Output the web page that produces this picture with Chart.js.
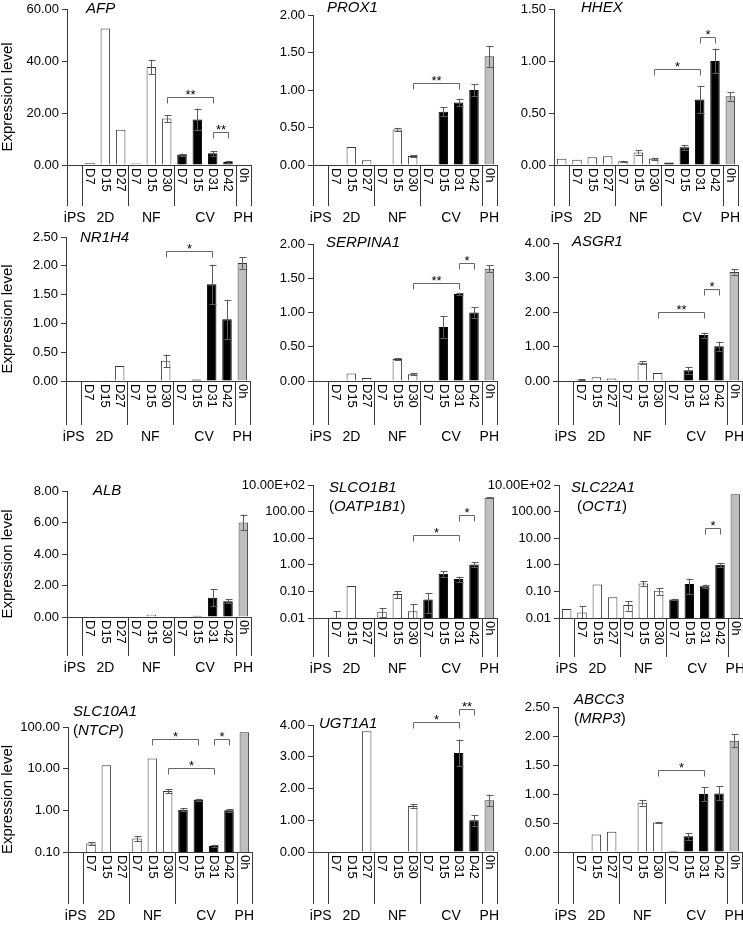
<!DOCTYPE html>
<html>
<head>
<meta charset="utf-8">
<script src="https://cdn.jsdelivr.net/npm/chart.js@4/dist/chart.umd.min.js"></script>
<style>
  html, body { margin: 0; background: #fff; }
  body { position: relative; width: 743px; height: 930px; overflow: hidden; }
  canvas { position: absolute; }
</style>
</head>
<body>
<script>
// categories
const days = ['iPS', 'D7', 'D15', 'D27', 'D7', 'D15', 'D30', 'D7', 'D15', 'D31', 'D42', '0h'];
const groupNames = ['iPS', '2D', 'NF', 'CV', 'PH'];
const groupSizes = [1, 3, 3, 4, 1];

// log axis ticks
const logTicksA = [0.01, 0.1, 1, 10, 100, 1000];
const logLabelsA = ['0.01', '0.10', '1.00', '10.00', '100.00', '10.00E+02'];
const logTicksB = [0.1, 1, 10, 100];
const logLabelsB = ['0.10', '1.00', '10.00', '100.00'];

// values, errors, significance brackets [from, to, y, label]
const afpValues = [0, 0.8, 52.5, 13.6, 0.6, 37.7, 17.9, 4.0, 17.5, 4.5, 1.2, 0];
const afpErrors = [0, 0, 0, 0, 0, 2.8, 1.3, 0.4, 4.2, 0.9, 0.4, 0];
const afpStars = [[6, 9, 26.3, '**'], [9, 10, 12.7, '**']];

const prox1Values = [0.01, 0, 0.24, 0.065, 0, 0.475, 0.12, 0.005, 0.71, 0.835, 1.0, 1.45];
const prox1Errors = [0, 0, 0, 0, 0, 0.02, 0.015, 0, 0.06, 0.05, 0.08, 0.14];
const prox1Stars = [[6, 9, 1.1, '**']];

const hhexValues = [0.06, 0.05, 0.075, 0.085, 0.035, 0.12, 0.06, 0.025, 0.17, 0.63, 1.0, 0.66];
const hhexErrors = [0, 0, 0, 0, 0.005, 0.02, 0.01, 0, 0.025, 0.13, 0.12, 0.04];
const hhexStars = [[6, 9, 0.92, '*'], [9, 10, 1.23, '*']];

const nr1h4Values = [0, 0, 0.005, 0.26, 0, 0.015, 0.35, 0, 0.025, 1.68, 1.07, 2.05];
const nr1h4Errors = [0, 0, 0, 0, 0, 0, 0.11, 0, 0, 0.34, 0.34, 0.1];
const nr1h4Stars = [[6, 9, 2.26, '*']];

const serpina1Values = [0, 0, 0.11, 0.045, 0, 0.32, 0.1, 0.005, 0.79, 1.27, 1.0, 1.64];
const serpina1Errors = [0, 0, 0, 0, 0, 0.01, 0.01, 0, 0.16, 0.02, 0.08, 0.05];
const serpina1Stars = [[6, 9, 1.43, '**'], [9, 10, 1.72, '*']];

const asgr1Values = [0, 0.04, 0.11, 0.07, 0.015, 0.53, 0.23, 0.01, 0.31, 1.33, 1.01, 3.16];
const asgr1Errors = [0, 0.01, 0, 0, 0, 0.04, 0, 0, 0.1, 0.07, 0.13, 0.08];
const asgr1Stars = [[6, 9, 2.01, '**'], [9, 10, 2.66, '*']];

const albValues = [0, 0, 0.04, 0.02, 0, 0.15, 0.05, 0, 0.08, 1.22, 1.0, 6.0];
const albErrors = [0, 0, 0, 0, 0, 0, 0, 0, 0, 0.55, 0.12, 0.5];
const albStars = [];

const slco1b1Values = [null, 0.0105, 0.16, null, 0.017, 0.08, 0.018, 0.05, 0.46, 0.29, 1.03, 330];
const slco1b1Errors = [0, 0.008, 0, 0, 0.006, 0.025, 0.015, 0.035, 0.12, 0.07, 0.2, 15];
const slco1b1Stars = [[6, 9, 13.6, '*'], [9, 10, 72, '*']];

const slc22a1Values = [0.022, 0.016, 0.18, 0.06, 0.031, 0.2, 0.105, 0.05, 0.19, 0.155, 1.0, 450];
const slc22a1Errors = [0, 0.012, 0, 0, 0.012, 0.04, 0.03, 0.004, 0.11, 0.025, 0.17, 0];
const slc22a1Stars = [[9, 10, 23.7, '*']];

const slc10a1Values = [null, 0.16, 12, null, 0.21, 17.5, 2.9, 1.03, 1.8, 0.14, 1.0, 75];
const slc10a1Errors = [0, 0.01, 0, 0, 0.03, 0, 0.35, 0.08, 0.12, 0.01, 0.08, 0];
const slc10a1Stars = [[5, 8, 52, '*'], [6, 9, 10.2, '*'], [9, 10, 52, '*']];

const ugt1a1Values = [0, 0, 0, 3.8, 0, 0, 1.45, 0, 0, 3.12, 1.0, 1.63];
const ugt1a1Errors = [0, 0, 0, 0, 0, 0, 0.05, 0, 0, 0.42, 0.17, 0.18];
const ugt1a1Stars = [[6, 9, 4.1, '*'], [9, 10, 4.5, '**']];

const abcc3Values = [0, 0.005, 0.3, 0.35, 0.005, 0.85, 0.51, 0.02, 0.27, 1.0, 1.01, 1.92];
const abcc3Errors = [0, 0, 0, 0, 0, 0.05, 0.01, 0, 0.06, 0.12, 0.12, 0.11];
const abcc3Stars = [[6, 9, 1.41, '*']];

const FONT = '"Liberation Sans", Arial, sans-serif';
const AXIS = '#3a3a3a';
const ERR = '#5c5c5c';
const groupFill = ['#ffffff', '#ffffff', '#ffffff', '#000000', '#bfbfbf'];

// page layout of each panel: axis x, top tick y, zero line y
const panels = [
  { title: [[['AFP', 1]]], values: afpValues, errors: afpErrors, stars: afpStars, max: 60, step: 20,
    axisX: 67, topY: 9, zeroY: 165, tx: 86, ty: 9, ylab: true, gdy: 53 },
  { title: [[['PROX1', 1]]], values: prox1Values, errors: prox1Errors, stars: prox1Stars, max: 2, step: 0.5,
    axisX: 313, topY: 15, zeroY: 165, tx: 327, ty: 8, gdy: 53 },
  { title: [[['HHEX', 1]]], values: hhexValues, errors: hhexErrors, stars: hhexStars, max: 1.5, step: 0.5,
    axisX: 554, topY: 9, zeroY: 165, tx: 581, ty: 8, gdy: 53 },
  { title: [[['NR1H4', 1]]], values: nr1h4Values, errors: nr1h4Errors, stars: nr1h4Stars, max: 2.5, step: 0.5,
    axisX: 66, topY: 237, zeroY: 381, tx: 80, ty: 238, ylab: true, gdy: 56 },
  { title: [[['SERPINA1', 1]]], values: serpina1Values, errors: serpina1Errors, stars: serpina1Stars, max: 2, step: 0.5,
    axisX: 313, topY: 244, zeroY: 381, tx: 326, ty: 243, gdy: 56 },
  { title: [[['ASGR1', 1]]], values: asgr1Values, errors: asgr1Errors, stars: asgr1Stars, max: 4, step: 1,
    axisX: 558, topY: 243, zeroY: 381, tx: 572, ty: 242, gdy: 56 },
  { title: [[['ALB', 1]]], values: albValues, errors: albErrors, stars: albStars, max: 8, step: 2,
    axisX: 67, topY: 491, zeroY: 617, tx: 93, ty: 491, ylab: true, gdy: 51 },
  { title: [[['SLCO1B1', 1]], [['(', 0], ['OATP1B1', 1], [')', 0]]], values: slco1b1Values, errors: slco1b1Errors,
    stars: slco1b1Stars, logTicks: logTicksA, logLabels: logLabelsA,
    axisX: 313, topY: 485, zeroY: 618, tx: 329, ty: 488, gdy: 51 },
  { title: [[['SLC22A1', 1]], [['(', 0], ['OCT1', 1], [')', 0]]], values: slc22a1Values, errors: slc22a1Errors,
    stars: slc22a1Stars, logTicks: logTicksA, logLabels: logLabelsA,
    axisX: 559, topY: 485, zeroY: 618, tx: 571, ty: 488, tx2: 577, gdy: 51 },
  { title: [[['SLC10A1', 1]], [['(', 0], ['NTCP', 1], [')', 0]]], values: slc10a1Values, errors: slc10a1Errors,
    stars: slc10a1Stars, logTicks: logTicksB, logLabels: logLabelsB,
    axisX: 68, topY: 727, zeroY: 852, tx: 73, ty: 712, ylab: true, gdy: 64 },
  { title: [[['UGT1A1', 1]]], values: ugt1a1Values, errors: ugt1a1Errors, stars: ugt1a1Stars, max: 4, step: 1,
    axisX: 313, topY: 725, zeroY: 852, tx: 319, ty: 724, gdy: 64 },
  { title: [[['ABCC3', 1]], [['(', 0], ['MRP3', 1], [')', 0]]], values: abcc3Values, errors: abcc3Errors,
    stars: abcc3Stars, max: 2.5, step: 0.5,
    axisX: 558, topY: 707, zeroY: 852, tx: 574, ty: 700, gdy: 64 }
];

const PADT = 40, PADB = 80, LEFTW = 80, PLOTW = 184, PADR = 8;

// group index of every bar
const groupOf = [];
groupSizes.forEach((n, g) => { for (let k = 0; k < n; k++) groupOf.push(g); });

function decor(p) {
  return {
    id: 'decor',
    afterDraw(chart) {
      const ctx = chart.ctx, xs = chart.scales.x, ys = chart.scales.y;
      const base = chart.chartArea.bottom;
      const cw = (xs.right - xs.left) / days.length;
      ctx.save();

      // axis extension and group separators
      ctx.strokeStyle = AXIS;
      ctx.lineWidth = 1;
      ctx.beginPath();
      let acc = 0;
      [0].concat(groupSizes).forEach(n => {
        acc += n;
        const x = Math.round(xs.left + acc * cw) + 0.5;
        ctx.moveTo(x, base);
        ctx.lineTo(x, base + p.gdy - 12);
      });
      ctx.stroke();

      // rotated day labels
      ctx.fillStyle = '#000';
      ctx.font = '13px ' + FONT;
      ctx.textAlign = 'left';
      ctx.textBaseline = 'middle';
      days.forEach((d, i) => {
        if (i === 0) return;
        ctx.save();
        ctx.translate(xs.getPixelForValue(i), base + 3);
        ctx.rotate(Math.PI / 2);
        ctx.fillText(d, 0, 0);
        ctx.restore();
      });

      // group names
      ctx.font = '14px ' + FONT;
      ctx.textAlign = 'center';
      acc = 0;
      groupSizes.forEach((n, g) => {
        ctx.fillText(groupNames[g], xs.left + (acc + n / 2) * cw, base + p.gdy);
        acc += n;
      });

      // error bars
      const meta = chart.getDatasetMeta(0);
      ctx.strokeStyle = ERR;
      ctx.beginPath();
      p.values.forEach((v, i) => {
        const e = p.errors[i];
        if (v == null || !e) return;
        const x = Math.round(meta.data[i].x) + 0.5;
        const lo = Math.max(v - e, ys.min);
        const y1 = ys.getPixelForValue(v + e), y2 = ys.getPixelForValue(lo);
        ctx.moveTo(x, y1); ctx.lineTo(x, y2);
        ctx.moveTo(x - 3, Math.round(y1) + 0.5); ctx.lineTo(x + 4, Math.round(y1) + 0.5);
        if (v - e > ys.min) { ctx.moveTo(x - 3, Math.round(y2) + 0.5); ctx.lineTo(x + 4, Math.round(y2) + 0.5); }
      });
      ctx.stroke();

      // significance brackets
      ctx.strokeStyle = '#666';
      ctx.font = '13px ' + FONT;
      ctx.textBaseline = 'alphabetic';
      p.stars.forEach(([a, b, yv, lab]) => {
        const xa = Math.round(xs.getPixelForValue(a)) + 0.5;
        const xb = Math.round(xs.getPixelForValue(b)) + 0.5;
        const yy = Math.round(ys.getPixelForValue(yv)) + 0.5;
        ctx.beginPath();
        ctx.moveTo(xa, yy + 6); ctx.lineTo(xa, yy); ctx.lineTo(xb, yy); ctx.lineTo(xb, yy + 6);
        ctx.stroke();
        ctx.fillText(lab, (xa + xb) / 2, yy + 1);
      });

      // gene title
      ctx.textAlign = 'left';
      ctx.textBaseline = 'middle';
      p.title.forEach((line, li) => {
        let x = (li && p.tx2 ? p.tx2 : p.tx) - p.left;
        const y = p.ty + li * 19 - p.top;
        line.forEach(([txt, it]) => {
          ctx.font = (it ? 'italic ' : '') + '15px ' + FONT;
          ctx.fillText(txt, x, y);
          x += ctx.measureText(txt).width;
        });
      });

      // y axis title
      if (p.ylab) {
        ctx.font = '15px ' + FONT;
        ctx.textAlign = 'center';
        ctx.translate(8 - p.left, (p.topY + p.zeroY) / 2 + 10 - p.top);
        ctx.rotate(-Math.PI / 2);
        ctx.fillText('Expression level', 0, 0);
      }
      ctx.restore();
    }
  };
}

function yScale(p) {
  const common = {
    position: 'left',
    afterFit: s => { s.width = LEFTW; },
    grid: { display: true, drawOnChartArea: false, drawTicks: true, tickLength: 5, color: AXIS },
    border: { display: true, color: AXIS },
    ticks: { color: '#000', padding: 3, font: { size: 13, family: FONT } }
  };
  if (p.logTicks) {
    return Object.assign(common, {
      type: 'logarithmic',
      min: p.logTicks[0],
      max: p.logTicks[p.logTicks.length - 1],
      afterBuildTicks: s => { s.ticks = p.logTicks.map(v => ({ value: v })); },
      ticks: Object.assign(common.ticks, { callback: (v, i) => p.logLabels[i] })
    });
  }
  return Object.assign(common, {
    type: 'linear',
    min: 0,
    max: p.max,
    ticks: Object.assign(common.ticks, { stepSize: p.step, callback: v => v.toFixed(2) })
  });
}

panels.forEach(p => {
  const cv = document.createElement('canvas');
  p.left = p.axisX - LEFTW;
  p.top = p.topY - PADT;
  cv.width = LEFTW + PLOTW + PADR;
  cv.height = p.zeroY - p.topY + PADT + PADB;
  cv.style.left = p.left + 'px';
  cv.style.top = p.top + 'px';
  document.body.appendChild(cv);

  new Chart(cv.getContext('2d'), {
    type: 'bar',
    data: {
      labels: days,
      datasets: [{
        data: p.values,
        backgroundColor: groupOf.map(g => groupFill[g]),
        borderColor: groupOf.map(g => (g === 3 ? '#000' : AXIS)),
        borderWidth: 1,
        barPercentage: 0.62,
        categoryPercentage: 1.0
      }]
    },
    options: {
      responsive: false,
      animation: false,
      devicePixelRatio: 1,
      layout: { padding: { top: PADT, bottom: PADB, left: 0, right: PADR } },
      plugins: { legend: { display: false }, tooltip: { enabled: false } },
      scales: {
        x: {
          afterFit: s => { s.height = 0; },
          grid: { display: false },
          border: { display: true, color: AXIS },
          ticks: { display: false }
        },
        y: yScale(p)
      }
    },
    plugins: [decor(p)]
  });
});
</script>
</body>
</html>
